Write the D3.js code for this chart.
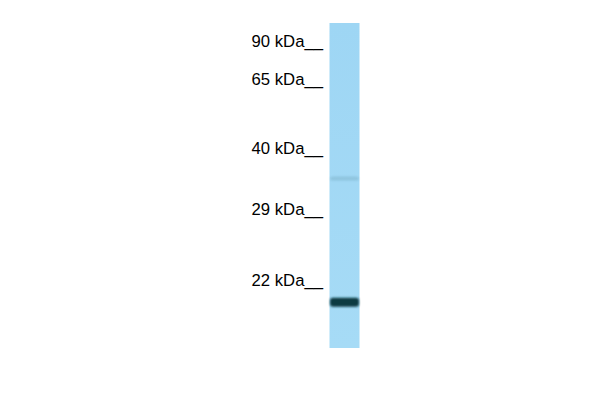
<!DOCTYPE html>
<html><head><meta charset="utf-8">
<script src="https://cdn.jsdelivr.net/npm/d3@7"></script>
<style>html,body{margin:0;padding:0;background:#fff;}svg{display:block;}</style>
</head><body>
<svg id="chart" width="600" height="400"></svg>
<script>
const markerKDa = [90, 65, 40, 29, 22];
const markerLabels = ["90 kDa", "65 kDa", "40 kDa", "29 kDa", "22 kDa"];
const lanes = ["Sample"];
const bandKDa = [19.8, 34.5];
const bandIntensity = [1.0, 0.12];

const svg = d3.select("#chart");
const defs = svg.append("defs");
defs.append("filter").attr("id","blur").attr("x","-20%").attr("y","-100%").attr("width","140%").attr("height","300%")
  .append("feGaussianBlur").attr("stdDeviation","1.1");
const lg = defs.append("linearGradient").attr("id","laneGrad").attr("x1",0).attr("x2",0).attr("y1",0).attr("y2",1);
lg.append("stop").attr("offset","0%").attr("stop-color","#9ed6f4");
lg.append("stop").attr("offset","100%").attr("stop-color","#a6dbf6");

// molecular-weight scale (piecewise by marker ladder)
const y = d3.scaleLinear().domain(markerKDa).range([41, 79, 148, 209, 280]);
const x = d3.scaleBand().domain(lanes).range([329.5, 359.5]).padding(0);

// lane
svg.append("rect").attr("x", x(lanes[0])).attr("y", 23)
  .attr("width", x.bandwidth()).attr("height", 325).attr("fill", "url(#laneGrad)");

// marker labels
const axis = d3.axisLeft(y).tickValues(markerKDa).tickSize(0).tickFormat((d,i)=>markerLabels[i] + "__");
const ag = svg.append("g").attr("transform","translate(326,0)").call(axis);
ag.select(".domain").remove();
ag.selectAll("text").attr("font-family","Liberation Sans, Arial, sans-serif").attr("font-size","16.7px")
  .attr("fill","#000").attr("dx","0").attr("dy","0.34em");

// bands
const bands = bandKDa.map((k,i)=>({k, a: bandIntensity[i]}));
svg.selectAll("rect.band").data(bands).enter().append("rect").attr("class","band")
  .attr("x", x(lanes[0]) + 0.5).attr("width", x.bandwidth() - 1)
  .attr("y", d => y(d.k) - (d.a > 0.5 ? 4.5 : 2))
  .attr("height", d => d.a > 0.5 ? 9 : 4)
  .attr("rx", 3)
  .attr("fill", "#0b3a42").attr("opacity", d => d.a)
  .attr("filter","url(#blur)");
</script>
</body></html>
